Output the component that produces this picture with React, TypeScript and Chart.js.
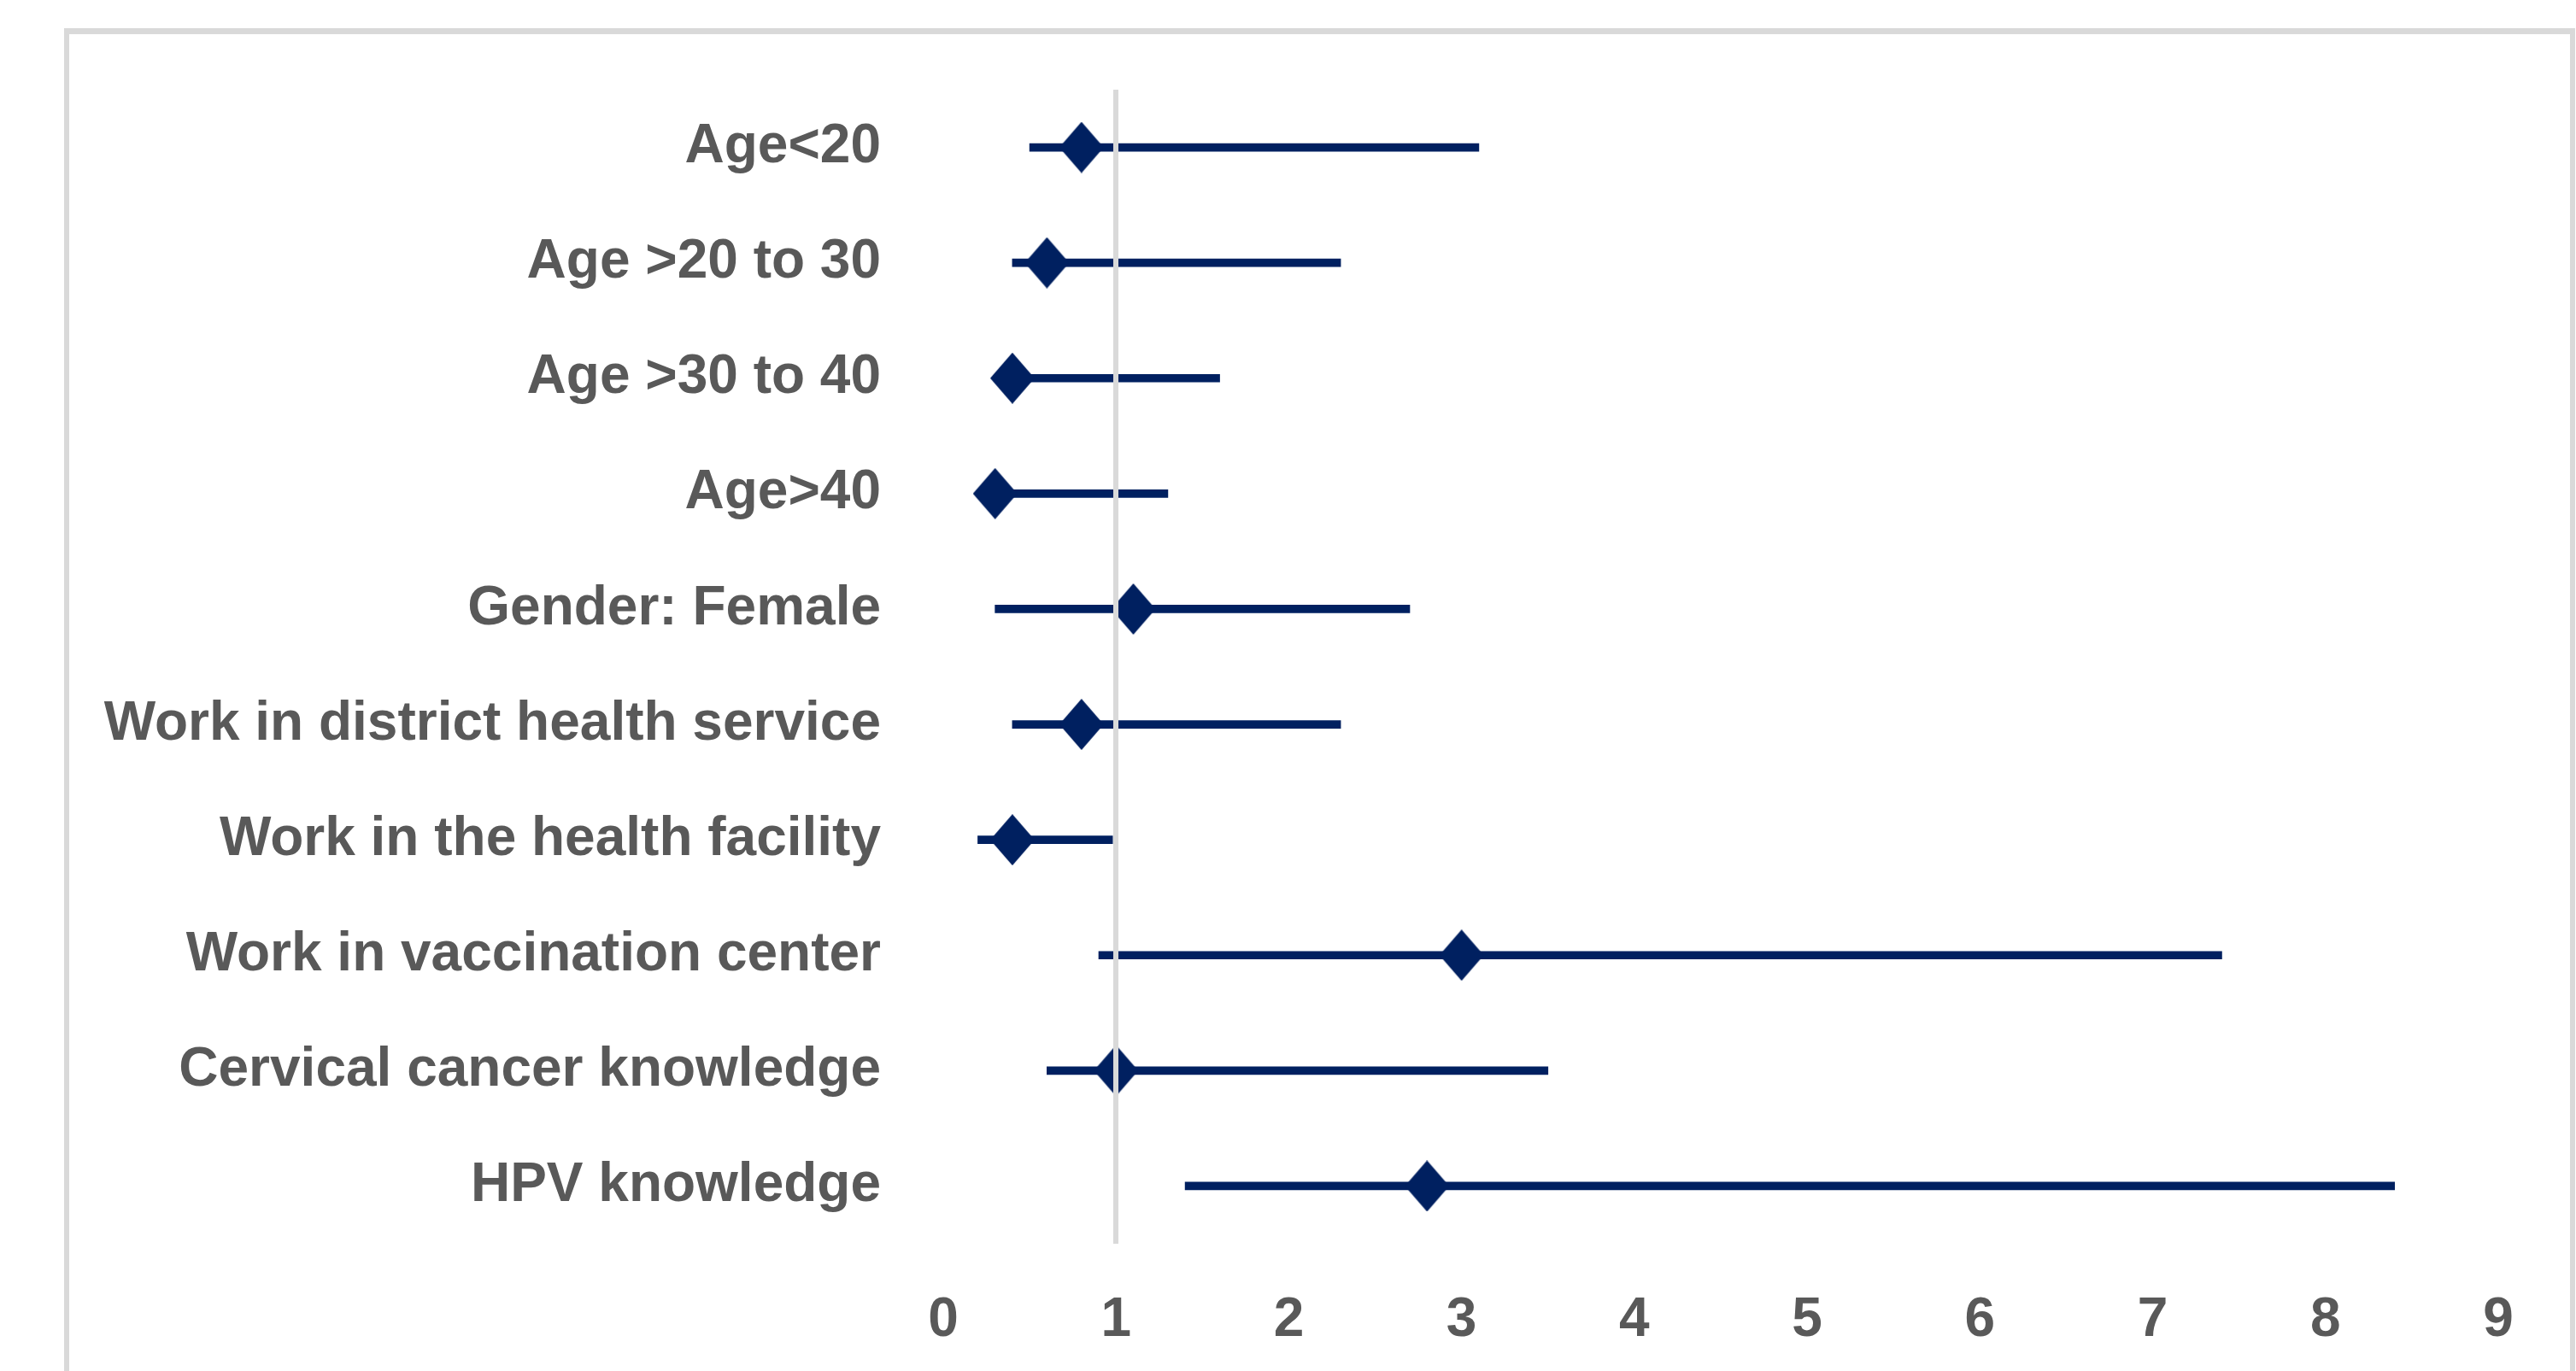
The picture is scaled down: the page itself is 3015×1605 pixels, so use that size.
import React, { useEffect, useRef } from 'react';
import { Chart, registerables } from 'chart.js';

Chart.register(...registerables);

const categories = [
  'Age<20',
  'Age >20 to 30',
  'Age >30 to 40',
  'Age>40',
  'Gender: Female',
  'Work in district health service',
  'Work in the health facility',
  'Work in vaccination center',
  'Cervical cancer knowledge',
  'HPV knowledge',
];
const oddsRatio = [0.8, 0.6, 0.4, 0.3, 1.1, 0.8, 0.4, 3.0, 1.0, 2.8];
const lowerCI = [0.5, 0.4, 0.3, 0.2, 0.3, 0.4, 0.2, 0.9, 0.6, 1.4];
const upperCI = [3.1, 2.3, 1.6, 1.3, 2.7, 2.3, 0.98, 7.4, 3.5, 8.4];
const xMin = 0;
const xMax = 9;
const referenceValue = 1;

const W = 3015;
const H = 1605;
const NAVY = '#002060';
const TEXT = '#595959';
const GRAY = '#d9d9d9';

export default function App() {
  const ref = useRef<HTMLCanvasElement>(null);

  useEffect(() => {
    const diamond = document.createElement('canvas');
    diamond.width = 52;
    diamond.height = 60;
    const d = diamond.getContext('2d')!;
    d.fillStyle = NAVY;
    d.beginPath();
    d.moveTo(26, 0);
    d.lineTo(52, 30);
    d.lineTo(26, 60);
    d.lineTo(0, 30);
    d.closePath();
    d.fill();

    const font = { family: '"Liberation Sans", Arial, sans-serif', size: 64, weight: 'bold' as const };

    const chart = new Chart(ref.current!, {
      type: 'bar',
      data: {
        labels: categories,
        datasets: [
          {
            type: 'bar',
            data: categories.map((_, i) => [lowerCI[i], upperCI[i]]) as any,
            backgroundColor: NAVY,
            borderWidth: 0,
            barThickness: 9,
            order: 2,
          },
          {
            type: 'line',
            indexAxis: 'y',
            data: oddsRatio,
            showLine: false,
            pointStyle: diamond as any,
            pointRadius: 26,
            backgroundColor: NAVY,
            borderColor: NAVY,
            order: 1,
          } as any,
        ],
      },
      options: {
        indexAxis: 'y',
        responsive: false,
        animation: false,
        devicePixelRatio: 1,
        events: [],
        layout: { padding: { left: 0, right: 91, top: 105, bottom: 0 } },
        plugins: {
          legend: { display: false },
          tooltip: { enabled: false },
        },
        scales: {
          x: {
            type: 'linear',
            min: xMin,
            max: xMax,
            afterFit: (s: any) => {
              s.height = 149;
            },
            ticks: {
              stepSize: 1,
              color: TEXT,
              font,
              padding: 52,
            },
            grid: {
              z: 1,
              drawTicks: false,
              lineWidth: 6,
              color: (ctx: any) => (ctx.tick && ctx.tick.value === referenceValue ? GRAY : 'rgba(0,0,0,0)'),
            } as any,
            border: { display: false },
          },
          y: {
            type: 'category',
            afterFit: (s: any) => {
              s.width = 1104;
            },
            ticks: {
              color: TEXT,
              font,
              padding: 65,
            },
            grid: { display: false },
            border: { display: false },
          },
        },
      },
    });
    return () => chart.destroy();
  }, []);

  return (
    <div style={{ position: 'fixed', left: 0, top: 0, width: W, height: H, background: '#fff', overflow: 'hidden' }}>
      <div
        style={{
          position: 'absolute',
          left: 75,
          top: 33,
          width: 3014 - 75,
          height: H,
          boxSizing: 'border-box',
          borderTop: `7px solid ${GRAY}`,
          borderLeft: `6px solid ${GRAY}`,
          borderRight: `6px solid ${GRAY}`,
        }}
      />
      <canvas ref={ref} width={W} height={H} style={{ position: 'absolute', left: 0, top: 0, width: W, height: H }} />
    </div>
  );
}
